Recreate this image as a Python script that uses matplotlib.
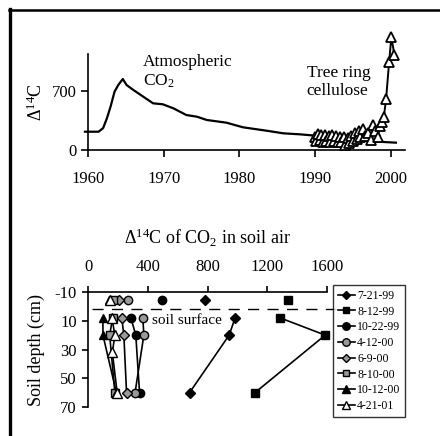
import matplotlib
matplotlib.use("Agg")
import matplotlib.pyplot as plt
from matplotlib.lines import Line2D

plt.rcParams['font.family'] = ['Liberation Serif', 'DejaVu Serif']
plt.rcParams['mathtext.fontset'] = 'custom'
plt.rcParams['mathtext.rm'] = 'Liberation Serif'
plt.rcParams['mathtext.it'] = 'Liberation Serif:italic'
plt.rcParams['axes.unicode_minus'] = False

# ---------------- top panel data ----------------
atm_years = [1959.6, 1961.4, 1962.0, 1962.5, 1963.0, 1963.5, 1964.0, 1964.6, 1965.1,
             1966.0, 1967.3, 1968.6, 1969.9, 1971.3, 1973.0, 1974.4, 1975.7, 1978.3,
             1980.5, 1983.6, 1985.8, 1988.0, 1990.6, 1993.0, 1996.0, 2000.7]
atm_d14c = [217, 217, 260, 376, 520, 690, 771, 842, 771,
            712, 633, 554, 542, 494, 415, 395, 356, 324,
            269, 229, 198, 186, 166, 135, 110, 87]

tree_years = [1990.0, 1990.2, 1990.4, 1990.6, 1990.8, 1991.0, 1991.3, 1991.5, 1991.8,
              1992.0, 1992.3, 1992.5, 1992.8, 1993.0, 1993.3, 1993.5, 1993.8, 1994.0,
              1994.3, 1994.5, 1994.8, 1995.0, 1995.3, 1995.5, 1995.8, 1996.0, 1996.3,
              1996.6, 1997.0, 1997.4, 1997.7, 1998.0, 1998.3, 1998.6, 1998.9, 1999.1,
              1999.4, 1999.8, 2000.1, 2000.5]
tree_d14c = [150, 110, 190, 120, 180, 100, 175, 110, 170,
             100, 175, 105, 165, 95, 160, 90, 150, 60,
             140, 80, 170, 110, 200, 130, 230, 150, 250,
             170, 200, 120, 300, 220, 150, 280, 330, 390,
             605, 1044, 1340, 1127]

top_xticks = [1960, 1970, 1980, 1990, 2000]
top_yticks = [0, 700]

# ---------------- bottom panel data ----------------
dates = ['7-21-99', '8-12-99', '10-22-99', '4-12-00', '6-9-00', '8-10-00', '10-12-00', '4-21-01']
air_depth = -4.5
air_d14c = [780, 1336, 495, 271, 208, 165, 140, 148]
soil_depths = {
    '7-21-99': [8, 20, 60],
    '8-12-99': [8, 20, 60],
    '10-22-99': [8, 20, 60],
    '4-12-00': [8, 20, 60],
    '6-9-00': [8, 20, 60],
    '8-10-00': [8, 20, 60],
    '10-12-00': [8, 20, 60],
    '4-21-01': [8, 20, 32, 60],
}
soil_d14c = {
    '7-21-99': [985, 945, 680],
    '8-12-99': [1286, 1588, 1118],
    '10-22-99': [287, 320, 345],
    '4-12-00': [367, 374, 315],
    '6-9-00': [226, 240, 258],
    '8-10-00': [165, 145, 180],
    '10-12-00': [100, 100, 190],
    '4-21-01': [160, 180, 163, 195],
}
surface_depth = 2
bot_xticks = [0, 400, 800, 1200, 1600]
bot_yticks = [-10, 10, 30, 50, 70]

markers = {'7-21-99': 'D', '8-12-99': 's', '10-22-99': 'o', '4-12-00': 'o',
           '6-9-00': 'D', '8-10-00': 's', '10-12-00': '^', '4-21-01': '^'}
faces = {'7-21-99': 'black', '8-12-99': 'black', '10-22-99': 'black', '4-12-00': '0.6',
         '6-9-00': '0.6', '8-10-00': '0.6', '10-12-00': 'black', '4-21-01': 'white'}
msizes = {'7-21-99': 5, '8-12-99': 5.5, '10-22-99': 6, '4-12-00': 6,
          '6-9-00': 5, '8-10-00': 5.5, '10-12-00': 6, '4-21-01': 6.5}

W, H = 440, 436
fig = plt.figure(figsize=(4.4, 4.36), dpi=100)

def fx(px):
    return px / W

def fy(py):
    return 1 - py / H

# frame lines
fig.add_artist(Line2D([fx(9.5), fx(9.5)], [fy(9), fy(436)], color='black', lw=2.4))
fig.add_artist(Line2D([fx(8.5), fx(440)], [fy(10.5), fy(10.5)], color='black', lw=1.8))

# ---------------- top axes ----------------
ax1 = fig.add_axes([fx(88), fy(150), fx(405) - fx(88), fy(54) - fy(150)])
ax1.plot(atm_years, atm_d14c, color='black', lw=1.6, clip_on=False, zorder=2)
ax1.plot(tree_years, tree_d14c, color='black', lw=1.4, marker='^', mfc='white',
         mec='black', mew=1.3, ms=6.5, clip_on=False, zorder=3)
ax1.set_xlim(1960, 2001.9)
ax1.set_ylim(0, 1139)
ax1.set_xticks(top_xticks)
ax1.set_yticks(top_yticks)
ax1.tick_params(direction='out', length=5, width=1.2, labelsize=12, pad=10)
ax1.tick_params(axis='y', pad=3)
for s in ['top', 'right']:
    ax1.spines[s].set_visible(False)
for s in ['left', 'bottom']:
    ax1.spines[s].set_linewidth(1.2)
ax1.set_ylabel(r'$\Delta^{14}$C', fontsize=13, labelpad=4)
ax1.text(1967.3, 1135, 'Atmospheric\nCO$_2$', fontsize=12.5, va='top', ha='left',
         linespacing=1.15)
ax1.text(1988.9, 1010, 'Tree ring\ncellulose', fontsize=12.5, va='top', ha='left',
         linespacing=1.15)

# ---------------- bottom axes ----------------
ax2 = fig.add_axes([fx(88), fy(407), fx(327) - fx(88), fy(292) - fy(407)])
handles = []
for i, d in enumerate(dates):
    h, = ax2.plot(soil_d14c[d], soil_depths[d], color='black', lw=1.2,
                  marker=markers[d], mfc=faces[d], mec='black', mew=1.0,
                  ms=msizes[d], clip_on=False, zorder=3, label=d)
    handles.append(h)
    ax2.plot([air_d14c[i]], [air_depth], linestyle='none', marker=markers[d],
             mfc=faces[d], mec='black', mew=1.0, ms=msizes[d], clip_on=False, zorder=3)
ax2.plot([30, 1660], [surface_depth, surface_depth], color='black', lw=1.0,
         dashes=(8, 6), clip_on=False)
ax2.text(430, 9.5, 'soil surface', fontsize=11, va='center', ha='left')
ax2.set_xlim(0, 1600)
ax2.set_ylim(70, -10)
ax2.set_xticks(bot_xticks)
ax2.set_yticks(bot_yticks)
ax2.xaxis.tick_top()
ax2.tick_params(direction='out', length=4, width=1.2, labelsize=12, pad=8)
ax2.tick_params(axis='y', pad=4)
for s in ['bottom', 'right']:
    ax2.spines[s].set_visible(False)
for s in ['left', 'top']:
    ax2.spines[s].set_linewidth(1.2)
ax2.set_ylabel('Soil depth (cm)', fontsize=13, labelpad=7)
fig.text(fx(207), fy(238), r'$\Delta^{14}$C of CO$_2$ in soil air', fontsize=13,
         ha='center', va='center')

leg = ax2.legend(handles=handles, loc='upper left', bbox_to_anchor=(fx(333), fy(285)),
                 bbox_transform=fig.transFigure, fontsize=8.5, frameon=True,
                 fancybox=False, edgecolor='black', borderaxespad=0,
                 handlelength=1.45, handletextpad=0.2, labelspacing=0.32,
                 borderpad=0.4, markerscale=0.9)
leg.get_frame().set_linewidth(1.0)

fig.savefig('out.png', dpi=100)
